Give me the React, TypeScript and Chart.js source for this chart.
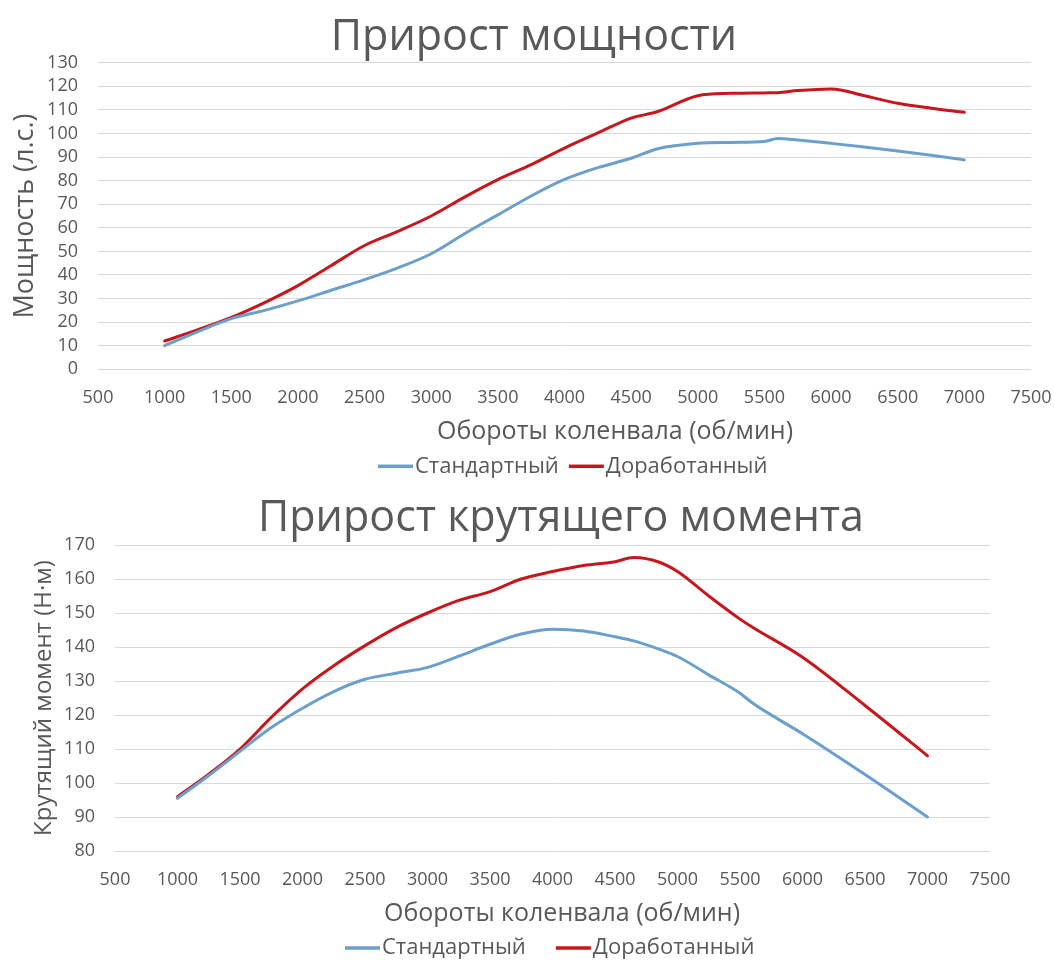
import React, { useEffect, useRef } from 'react';
import { Chart, registerables } from 'chart.js';

Chart.register(...registerables);

// ---------- data ----------
const seriesLabels = ['Стандартный', 'Доработанный'];
const xAxisTitle = 'Обороты коленвала (об/мин)';

const powerTitle = 'Прирост мощности';
const powerYTitle = 'Мощность (л.с.)';
const powerRpm = [1000, 1250, 1500, 1750, 2000, 2250, 2500, 2750, 3000, 3250, 3500, 3750, 4000, 4250, 4500, 4700, 5000, 5250, 5500, 5600, 5750, 6000, 6250, 6500, 6750, 7000];
const powerStandard = [10, 16, 21.5, 25, 29, 33.5, 38, 43, 49, 57.5, 65.5, 73.5, 80.5, 85.5, 89.5, 93.5, 95.8, 96.2, 96.6, 97.9, 97.2, 95.8, 94.3, 92.6, 90.8, 88.8];
const powerModified = [12, 16.8, 22, 28.3, 35.5, 44, 52.5, 58.5, 65, 73, 80.4, 86.8, 93.8, 100.2, 106.5, 109.3, 116, 117, 117.2, 117.3, 118.2, 118.9, 116, 112.8, 110.7, 109];

const torqueTitle = 'Прирост крутящего момента';
const torqueYTitle = 'Крутящий момент (Н·м)';
const torqueRpm = [1000, 1250, 1500, 1750, 2000, 2250, 2500, 2750, 3000, 3250, 3500, 3750, 4000, 4250, 4500, 4650, 4850, 5000, 5250, 5500, 5600, 6000, 6500, 7000];
const torqueStandard = [95.5, 102.2, 109.3, 116.3, 122, 126.9, 130.5, 132.3, 134, 137.3, 140.8, 143.8, 145.2, 144.7, 143, 141.8, 139.4, 137.2, 131.8, 126.4, 123.5, 114.5, 102.5, 90];
const torqueModified = [96, 102.6, 110, 119.3, 127.7, 134.5, 140.4, 145.7, 150, 153.7, 156.3, 160, 162.2, 164, 165.1, 166.3, 165, 162.2, 155, 148.2, 145.8, 137, 122.8, 108];

const xMin = 500;
const xMax = 7500;
const xStep = 500;

// ---------- style ----------
const FONT = '"Open Sans", "DejaVu Sans", sans-serif';
const TEXT = '#595959';
const GRID = '#d9d9d9';
const BLUE = '#6b9fcd';
const RED = '#c8161d';

const textPlugin = {
  id: 'chartTexts',
  afterDraw(chart: any, _args: any, o: any) {
    const ctx = chart.ctx;
    const area = chart.chartArea;
    ctx.save();
    ctx.fillStyle = TEXT;
    // title
    ctx.font = `${o.titleSize}px ${FONT}`;
    ctx.textAlign = 'center';
    ctx.textBaseline = 'alphabetic';
    ctx.fillText(o.title, o.titleX, o.titleBaseline);
    // x axis title
    ctx.font = `${o.xTitleSize}px ${FONT}`;
    ctx.textBaseline = 'middle';
    ctx.fillText(o.xTitle, o.xTitleX, area.bottom + o.xTitleDy);
    // legend
    ctx.font = `${o.legendSize}px ${FONT}`;
    ctx.textAlign = 'left';
    let x = o.legendX;
    const y = area.bottom + o.legendDy;
    chart.data.datasets.forEach((ds: any) => {
      ctx.fillStyle = ds.borderColor;
      ctx.fillRect(x, y - 1.75, 35, 3.5);
      x += 37;
      ctx.fillStyle = TEXT;
      ctx.fillText(ds.label, x, y);
      x += ctx.measureText(ds.label).width + o.legendGap;
    });
    ctx.restore();
  },
};

function makeConfig(spec: any): any {
  const pts = (vals: number[]) => spec.rpm.map((r: number, i: number) => ({ x: r, y: vals[i] }));
  return {
    type: 'line',
    data: {
      datasets: [
        { label: seriesLabels[0], data: pts(spec.std), borderColor: BLUE, backgroundColor: BLUE },
        { label: seriesLabels[1], data: pts(spec.mod), borderColor: RED, backgroundColor: RED },
      ],
    },
    options: {
      responsive: false,
      animation: false,
      layout: { padding: { top: spec.padTop, left: 0, right: spec.padRight, bottom: 0 } },
      elements: {
        line: { borderWidth: 3, cubicInterpolationMode: 'monotone', borderCapStyle: 'round', borderJoinStyle: 'round' },
        point: { radius: 0, hoverRadius: 0 },
      },
      scales: {
        x: {
          type: 'linear',
          min: xMin,
          max: xMax,
          ticks: {
            stepSize: xStep,
            color: TEXT,
            font: { family: FONT, size: 18 },
            padding: 0,
            maxRotation: 0,
            autoSkip: false,
            callback: (v: number) => String(v),
          },
          grid: { display: false, drawTicks: true, tickLength: 18 },
          border: { display: false },
          afterFit: (s: any) => { s.height = spec.xHeight; },
        },
        y: {
          min: spec.yMin,
          max: spec.yMax,
          ticks: {
            stepSize: spec.yStep,
            color: TEXT,
            font: { family: FONT, size: 18 },
            padding: 20,
            autoSkip: false,
            callback: (v: number) => String(v),
          },
          grid: { color: GRID, lineWidth: 1, drawTicks: false },
          border: { display: false },
          title: {
            display: true,
            text: spec.yTitle,
            color: TEXT,
            font: { family: FONT, size: spec.yTitleSize },
            padding: { top: spec.yTitlePad, bottom: 0 },
          },
          afterFit: (s: any) => { s.width = spec.yWidth; },
        },
      },
      plugins: {
        legend: { display: false },
        tooltip: { enabled: false },
        title: { display: false },
        chartTexts: {
          title: spec.title,
          titleSize: 43,
          titleX: spec.titleX,
          titleBaseline: spec.titleBaseline,
          xTitle: xAxisTitle,
          xTitleSize: 25,
          xTitleX: spec.xTitleX,
          xTitleDy: 63,
          legendSize: 22,
          legendX: spec.legendX,
          legendDy: 97,
          legendGap: spec.legendGap,
        },
      },
    },
    plugins: [textPlugin],
  };
}

function ChartCanvas({ spec, top }: { spec: any; top: number }) {
  const ref = useRef<HTMLCanvasElement | null>(null);
  useEffect(() => {
    if (!ref.current) return;
    const chart = new Chart(ref.current, makeConfig(spec));
    return () => chart.destroy();
  }, [spec]);
  return (
    <canvas
      ref={ref}
      width={1054}
      height={480}
      style={{ position: 'absolute', left: 0, top, width: 1054, height: 480, display: 'block' }}
    />
  );
}

const powerSpec = {
  rpm: powerRpm,
  std: powerStandard,
  mod: powerModified,
  yMin: 0,
  yMax: 130,
  yStep: 10,
  yTitle: powerYTitle,
  yTitleSize: 27,
  yTitlePad: 9,
  yWidth: 98,
  padTop: 62.7,
  padRight: 23,
  xHeight: 110.7,
  title: powerTitle,
  titleX: 534,
  titleBaseline: 50,
  xTitleX: 615,
  legendX: 378,
  legendGap: 10,
};

const torqueSpec = {
  rpm: torqueRpm,
  std: torqueStandard,
  mod: torqueModified,
  yMin: 80,
  yMax: 170,
  yStep: 10,
  yTitle: torqueYTitle,
  yTitleSize: 24,
  yTitlePad: 30,
  yWidth: 115,
  padTop: 65,
  padRight: 64,
  xHeight: 109,
  title: torqueTitle,
  titleX: 561,
  titleBaseline: 51,
  xTitleX: 562,
  legendX: 345,
  legendGap: 30,
};

export default function App() {
  return (
    <div style={{ position: 'absolute', left: 0, top: 0, width: 1054, height: 960, background: '#fff', overflow: 'hidden' }}>
      <ChartCanvas spec={powerSpec} top={0} />
      <ChartCanvas spec={torqueSpec} top={480} />
    </div>
  );
}
